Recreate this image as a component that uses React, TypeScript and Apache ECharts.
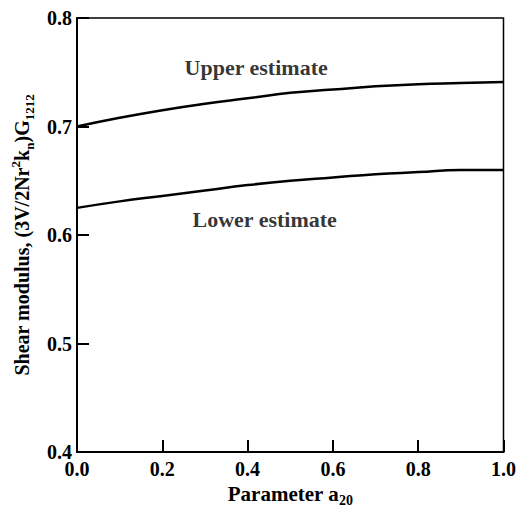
import React, { useEffect, useRef } from "react";
import * as echarts from "echarts";

const xValues = [0, 0.1, 0.2, 0.3, 0.4, 0.5, 0.6, 0.7, 0.8, 0.9, 1.0];
const upperEstimate = [0.700, 0.708, 0.715, 0.721, 0.726, 0.731, 0.734, 0.737, 0.739, 0.740, 0.741];
const lowerEstimate = [0.625, 0.631, 0.636, 0.641, 0.646, 0.650, 0.653, 0.656, 0.658, 0.660, 0.660];
const xTicks = [0, 0.2, 0.4, 0.6, 0.8, 1.0];
const yTicks = [0.4, 0.5, 0.6, 0.7, 0.8];
const annotations = [
  { name: "Upper estimate", value: [0.42, 0.754] },
  { name: "Lower estimate", value: [0.44, 0.614] },
];

const FONT = "'Liberation Serif', 'Times New Roman', serif";

export default function App() {
  const ref = useRef<HTMLDivElement>(null);
  useEffect(() => {
    if (!ref.current) return;
    const chart = echarts.init(ref.current, null, { renderer: "svg" });
    const xLabels = xTicks.map((v) => v.toFixed(1));
    chart.setOption({
      animation: false,
      backgroundColor: "#ffffff",
      textStyle: { fontFamily: FONT },
      grid: {
        left: 77,
        top: 18,
        right: 15,
        bottom: 65,
        show: true,
        borderColor: "#000",
        borderWidth: 1.5,
        containLabel: false,
      },
      xAxis: {
        type: "value",
        min: 0,
        max: 1,
        interval: 0.2,
        name: "{m|Parameter a}{s|20}",
        nameLocation: "middle",
        nameGap: 26,
        nameTextStyle: {
          rich: {
            m: { fontFamily: FONT, fontWeight: "bold", fontSize: 21, color: "#000", lineHeight: 26, verticalAlign: "bottom" },
            s: { fontFamily: FONT, fontWeight: "bold", fontSize: 14, color: "#000", lineHeight: 26, verticalAlign: "bottom", padding: [0, 0, -3, 0] },
          },
        },
        axisLine: { show: true, lineStyle: { color: "#000", width: 2 } },
        axisTick: { show: true, inside: true, length: 12, lineStyle: { color: "#000", width: 2 } },
        splitLine: { show: false },
        axisLabel: {
          color: "#000",
          fontFamily: FONT,
          fontWeight: "bold",
          fontSize: 20,
          margin: 7,
          formatter: (v: number) => {
            const i = xTicks.findIndex((t) => Math.abs(t - v) < 1e-6);
            return i >= 0 ? xLabels[i] : "";
          },
        },
      },
      yAxis: {
        type: "value",
        min: 0.4,
        max: 0.8,
        interval: 0.1,
        name: "{m|Shear modulus, (3V/2Nr}{p|2}{m|k}{s|n}{m|)G}{s|1212}",
        nameLocation: "middle",
        nameGap: 38,
        nameTextStyle: {
          rich: {
            m: { fontFamily: FONT, fontWeight: "bold", fontSize: 20, color: "#000", lineHeight: 28, verticalAlign: "middle" },
            p: { fontFamily: FONT, fontWeight: "bold", fontSize: 13, color: "#000", lineHeight: 28, verticalAlign: "top", padding: [1, 0, 0, 0] },
            s: { fontFamily: FONT, fontWeight: "bold", fontSize: 13, color: "#000", lineHeight: 28, verticalAlign: "bottom" },
          },
        },
        axisLine: { show: true, lineStyle: { color: "#000", width: 2 } },
        axisTick: { show: true, inside: true, length: 12, lineStyle: { color: "#000", width: 2 } },
        splitLine: { show: false },
        axisLabel: {
          color: "#000",
          fontFamily: FONT,
          fontWeight: "bold",
          fontSize: 20,
          margin: 5,
          formatter: (v: number) => {
            const i = yTicks.findIndex((t) => Math.abs(t - v) < 1e-6);
            return i >= 0 ? yTicks[i].toFixed(1) : "";
          },
        },
      },
      series: [
        {
          name: "Upper estimate",
          type: "line",
          smooth: true,
          symbol: "none",
          data: xValues.map((x, i) => [x, upperEstimate[i]]),
          lineStyle: { color: "#000", width: 2.5 },
        },
        {
          name: "Lower estimate",
          type: "line",
          smooth: true,
          symbol: "none",
          data: xValues.map((x, i) => [x, lowerEstimate[i]]),
          lineStyle: { color: "#000", width: 2.5 },
        },
        {
          name: "labels",
          type: "scatter",
          symbolSize: 0,
          data: annotations,
          label: {
            show: true,
            position: "inside",
            formatter: (p: any) => p.name,
            color: "#000",
            fontFamily: FONT,
            fontWeight: "bold",
            fontSize: 22,
          },
        },
      ],
    });
    return () => chart.dispose();
  }, []);
  return <div ref={ref} style={{ position: "absolute", left: 0, top: 0, width: 519, height: 517 }} />;
}
